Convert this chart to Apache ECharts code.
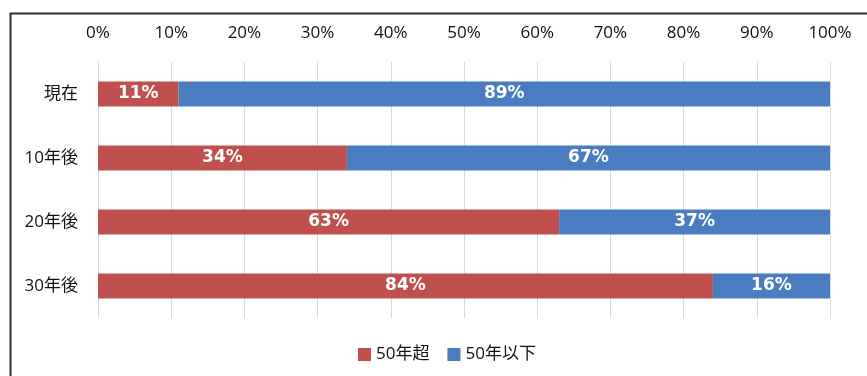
<!DOCTYPE html>
<html>
<head>
<meta charset="utf-8">
<script src="https://cdn.jsdelivr.net/npm/echarts@6/dist/echarts.min.js"></script>
<style>
  html, body { margin: 0; padding: 0; background: #fff; }
  #chart { width: 867px; height: 376px; }
</style>
</head>
<body>
<div id="chart"></div>
<script>
// Periods, top to bottom
const categories = ['現在', '10年後', '20年後', '30年後'];
// Share of assets over 50 years old vs. 50 years or younger (%)
const over50 = [11, 34, 63, 84];
const under50 = [89, 67, 37, 16];
const seriesNames = ['50年超', '50年以下'];
const tickMax = 100;
const tickStep = 10;

const uiFont = '"Open Sans", "Noto Sans CJK JP", sans-serif';
const labelFont = '"DejaVu Sans", Verdana, sans-serif';

const chart = echarts.init(document.getElementById('chart'), null, { renderer: 'canvas' });

function barSeries(name, data, color) {
  return {
    name: name,
    type: 'bar',
    stack: 'total',
    data: data,
    barWidth: 25,
    itemStyle: { color: color },
    label: {
      show: true,
      position: 'inside',
      color: '#ffffff',
      fontFamily: labelFont,
      fontWeight: 'bold',
      fontSize: 17,
      formatter: p => p.value + '%'
    }
  };
}

chart.setOption({
  animation: false,
  backgroundColor: '#ffffff',
  graphic: [{
    type: 'rect',
    shape: { x: 10.5, y: 13.5, width: 900, height: 420 },
    style: { fill: 'none', stroke: '#333333', lineWidth: 2 },
    silent: true,
    z: 100
  }],
  grid: { left: 98, right: 37, top: 62, height: 256 },
  legend: {
    top: 341,
    left: 353,
    itemWidth: 13,
    itemHeight: 13,
    itemGap: 18,
    icon: 'rect',
    textStyle: { fontFamily: uiFont, fontSize: 17, color: '#111' },
    data: seriesNames
  },
  xAxis: {
    type: 'value',
    position: 'top',
    min: 0,
    max: tickMax,
    interval: tickStep,
    axisLine: { show: false },
    axisTick: { show: false },
    axisLabel: {
      formatter: v => v + '%',
      fontFamily: uiFont,
      fontSize: 17,
      color: '#111',
      margin: 20
    },
    splitLine: { show: true, lineStyle: { color: '#d9d9d9', width: 1 } }
  },
  yAxis: {
    type: 'category',
    inverse: true,
    data: categories,
    axisLine: { show: false },
    axisTick: { show: false },
    axisLabel: {
      fontFamily: uiFont,
      fontSize: 17,
      color: '#111',
      margin: 20
    }
  },
  series: [
    barSeries(seriesNames[0], over50, '#c0504d'),
    barSeries(seriesNames[1], under50, '#4a7dc0')
  ]
});
</script>
</body>
</html>
